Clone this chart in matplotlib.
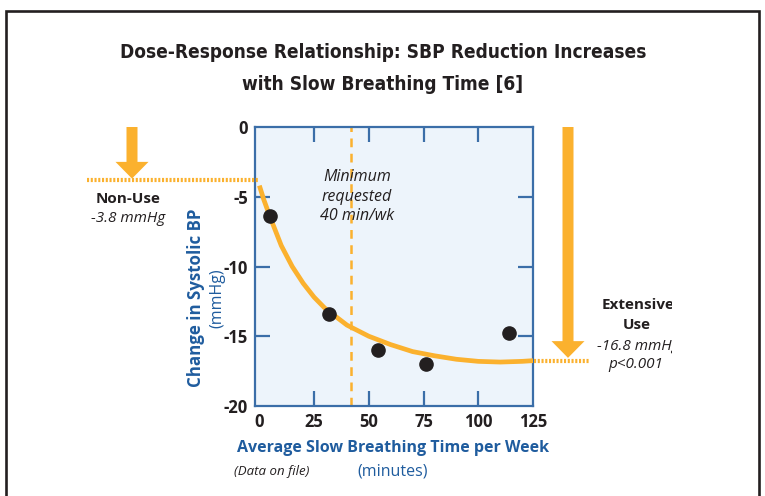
import matplotlib
matplotlib.use("Agg")
import matplotlib.pyplot as plt
from matplotlib import font_manager
from matplotlib.lines import Line2D
from matplotlib.patches import Polygon, Rectangle
from matplotlib.transforms import blended_transform_factory

# measured study points (minutes/week, change in SBP mmHg)
minutes = [5, 32, 54, 76, 114]
sbp_change = [-6.4, -13.4, -16.0, -17.0, -14.8]

# fitted dose-response curve
fit_minutes = [0, 2, 5, 10, 15, 20, 25, 30, 40, 50, 60, 70, 80, 90, 100, 110, 120, 125]
fit_change = [-4.2, -5.2, -6.5, -8.5, -10.0, -11.2, -12.2, -13.0, -14.2, -15.0,
              -15.6, -16.1, -16.4, -16.65, -16.8, -16.85, -16.8, -16.75]

non_use = -3.8
extensive_use = -16.8
min_requested = 42

x_ticks = [0, 25, 50, 75, 100, 125]
y_ticks = [0, -5, -10, -15, -20]

ORANGE = '#FBB12E'
BLUE = '#1F5C9E'
SPINE = '#3B6EA8'
BG = '#EDF4FB'
INK = '#231F20'

W, H = 765, 496


def fx(x):
    return x / W


def fy(y):
    return 1 - y / H


names = {f.name for f in font_manager.fontManager.ttflist}
TITLE_FONT = 'Liberation Sans Narrow' if 'Liberation Sans Narrow' in names else 'DejaVu Sans'
BODY_FONT = 'Open Sans'

plt.rcParams['font.family'] = [BODY_FONT, 'DejaVu Sans']
plt.rcParams['axes.unicode_minus'] = False

fig = plt.figure(figsize=(W / 100, H / 100), dpi=100)
fig.patch.set_facecolor('white')

# outer frame (open at the bottom)
fig.add_artist(Line2D([fx(6), fx(6), fx(759), fx(759)], [fy(520), fy(11), fy(11), fy(520)],
                      transform=fig.transFigure, color=INK, linewidth=1.9,
                      solid_joinstyle='miter'))

# title
fig.text(fx(383), fy(52), 'Dose-Response Relationship: SBP Reduction Increases',
         ha='center', va='center', fontsize=13.7, fontweight='bold', family=TITLE_FONT,
         fontstretch='condensed', color=INK)
fig.text(fx(383), fy(85), 'with Slow Breathing Time [6]',
         ha='center', va='center', fontsize=13.7, fontweight='bold', family=TITLE_FONT,
         fontstretch='condensed', color=INK)

ax = fig.add_axes([fx(255), fy(406), 278 / W, 279 / H])
ax.set_facecolor(BG)
ax.set_xlim(-2, 125)
ax.set_ylim(-20, 0)

ax.plot(fit_minutes, fit_change, color=ORANGE, linewidth=3.4, solid_capstyle='butt', zorder=3)
ax.axvline(min_requested, color=ORANGE, linewidth=1.8, linestyle=(0, (3.5, 2.6)), zorder=2)
ax.plot(minutes, sbp_change, 'o', color=INK, markersize=9.5, zorder=4)

ax.text(min_requested + 2.5, -5.0, 'Minimum\nrequested\n40 min/wk', ha='center', va='center',
        fontsize=11.5, style='italic', color=INK, linespacing=1.3, zorder=5)

ax.set_xticks(x_ticks)
ax.set_yticks(y_ticks)
ax.tick_params(direction='in', length=11, width=1.6, color=SPINE, top=True, right=True,
               labelsize=12, pad=5, labelcolor=INK)
for lbl in ax.get_xticklabels() + ax.get_yticklabels():
    lbl.set_fontweight('bold')
# the end ticks sit on the spines, no marks there
for t in [ax.xaxis.get_major_ticks()[0], ax.xaxis.get_major_ticks()[-1],
          ax.yaxis.get_major_ticks()[0], ax.yaxis.get_major_ticks()[-1]]:
    t.tick1line.set_visible(False)
    t.tick2line.set_visible(False)
for sp in ax.spines.values():
    sp.set_color(SPINE)
    sp.set_linewidth(1.6)

# axis titles
fig.text(fx(393), fy(448), 'Average Slow Breathing Time per Week', ha='center', va='center',
         fontsize=11.5, fontweight='bold', color=BLUE)
fig.text(fx(393), fy(471), '(minutes)', ha='center', va='center', fontsize=11.5, color=BLUE)
fig.text(fx(272), fy(472), '(Data on file)', ha='center', va='center', fontsize=9.5,
         style='italic', color=INK)
fig.text(fx(196), fy(298), 'Change in Systolic BP', ha='center', va='center', rotation=90,
         fontsize=12.2, fontweight='bold', color=BLUE)
fig.text(fx(217), fy(298), '(mmHg)', ha='center', va='center', rotation=90,
         fontsize=11.5, color=BLUE)

# reference arrows: x in figure fraction, y in data units
trans = blended_transform_factory(fig.transFigure, ax.transData)


def arrow(cx, tip, shaft=5.5, head=16.5, head_len=1.2):
    base = tip + head_len
    pts = [(fx(cx - shaft), 0), (fx(cx + shaft), 0), (fx(cx + shaft), base),
           (fx(cx + head), base), (fx(cx), tip), (fx(cx - head), base),
           (fx(cx - shaft), base)]
    fig.add_artist(Polygon(pts, closed=True, transform=trans, facecolor=ORANGE,
                           edgecolor='none', clip_on=False))


arrow(132, non_use + 0.1)
arrow(568, extensive_use + 0.25)

fig.add_artist(Line2D([fx(87), fx(258)], [non_use, non_use], transform=trans,
                      color=ORANGE, linewidth=3, linestyle=(0, (0.5, 0.4))))
fig.add_artist(Line2D([fx(534), fx(589)], [extensive_use, extensive_use], transform=trans,
                      color=ORANGE, linewidth=3, linestyle=(0, (0.5, 0.4))))

fig.text(fx(128), fy(199), 'Non-Use', ha='center', va='center', fontsize=11,
         fontweight='bold', color=INK)
fig.text(fx(128), fy(219), '-3.8 mmHg', ha='center', va='center', fontsize=11,
         style='italic', color=INK)

fig.text(fx(638), fy(305), 'Extensive', ha='center', va='center', fontsize=11,
         fontweight='bold', color=INK, zorder=3)
fig.text(fx(637), fy(325), 'Use', ha='center', va='center', fontsize=11,
         fontweight='bold', color=INK, zorder=3)
fig.text(fx(638), fy(346), '-16.8 mmHg', ha='center', va='center', fontsize=11,
         style='italic', color=INK, zorder=3)
fig.text(fx(636), fy(365), 'p<0.001', ha='center', va='center', fontsize=11,
         style='italic', color=INK, zorder=3)
# the source image cuts the right-hand labels off
fig.add_artist(Rectangle((fx(672), fy(385)), (740 - 672) / W, 100 / H,
                         transform=fig.transFigure, facecolor='white', edgecolor='none',
                         zorder=10))

fig.savefig('out.png', dpi=100, facecolor='white')
